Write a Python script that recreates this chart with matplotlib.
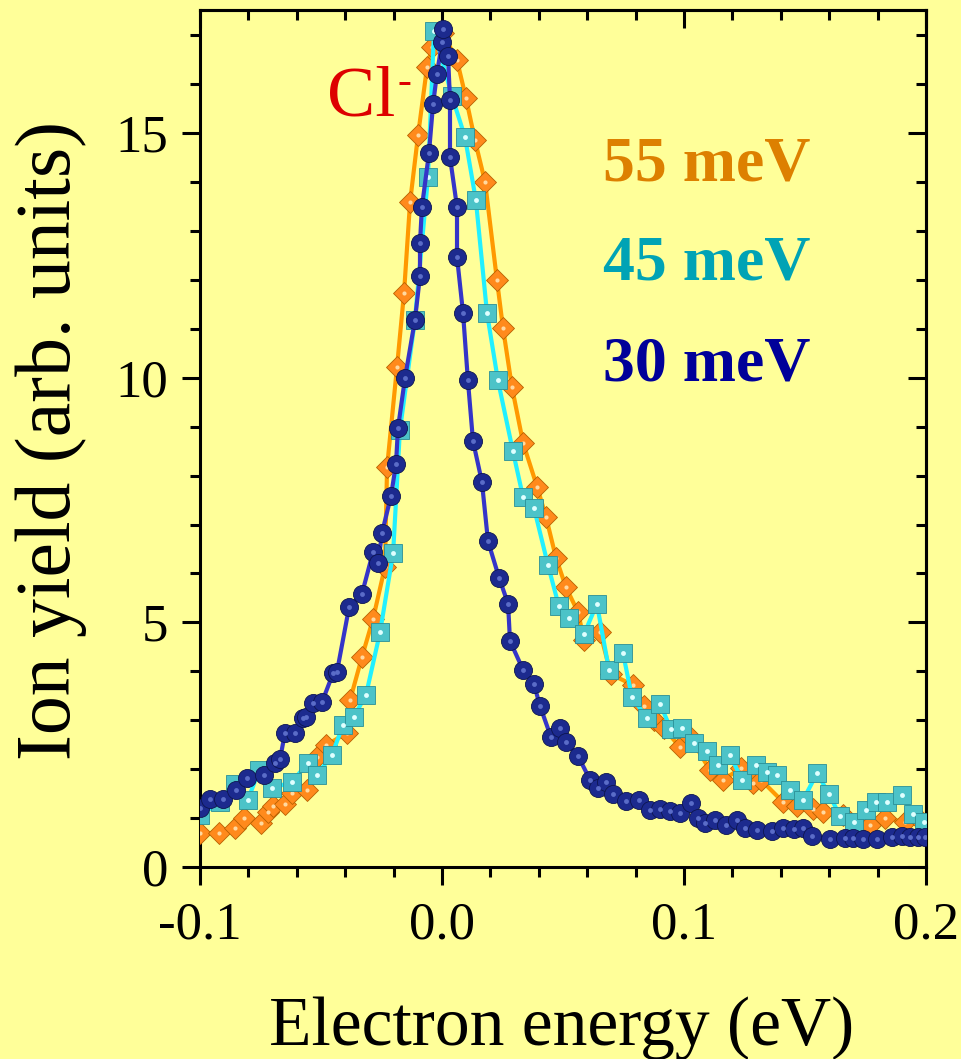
import matplotlib
matplotlib.use("Agg")
import matplotlib.pyplot as plt
from matplotlib.ticker import MultipleLocator, FormatStrFormatter

plt.rcParams['font.family'] = ['Liberation Serif', 'DejaVu Serif']

# 55 meV resolution (orange diamonds)
e55 = [-0.1000, -0.0921, -0.0855, -0.0818, -0.0748, -0.0719, -0.0698, -0.0649,
       -0.0620, -0.0558, -0.0517, -0.0479, -0.0393, -0.0380, -0.0331, -0.0285,
       -0.0236, -0.0227, -0.0186, -0.0157, -0.0132, -0.0099, -0.0062, -0.0041,
       0.0004, 0.0062, 0.0099, 0.0136, 0.0178, 0.0227, 0.0252, 0.0289, 0.0335,
       0.0393, 0.0430, 0.0471, 0.0512, 0.0562, 0.0587, 0.0653, 0.0698, 0.0789,
       0.0835, 0.0876, 0.0917, 0.0983, 0.1025, 0.1107, 0.1161, 0.1236, 0.1285,
       0.1318, 0.1409, 0.1467, 0.1533, 0.1574, 0.1657, 0.1769, 0.1831, 0.1913,
       0.1983]
y55 = [0.69, 0.69, 0.80, 1.00, 0.90, 1.12, 1.25, 1.29, 1.51, 1.57, 2.25, 2.49,
       2.74, 3.41, 4.29, 5.07, 6.13, 8.17, 10.22, 11.73, 13.59, 14.96, 16.35,
       16.76, 17.04, 16.49, 15.72, 14.86, 14.00, 12.00, 11.02, 9.81, 8.67, 7.77,
       7.15, 6.32, 5.72, 5.21, 4.64, 4.80, 3.94, 3.72, 3.29, 3.00, 2.84, 2.45,
       2.66, 1.98, 1.78, 2.02, 1.72, 1.78, 1.33, 1.25, 1.19, 1.12, 1.06, 0.86,
       1.00, 0.92, 0.92]

# 45 meV resolution (cyan squares)
e45 = [-0.1000, -0.0917, -0.0855, -0.0802, -0.0756, -0.0702, -0.0620, -0.0554,
       -0.0517, -0.0455, -0.0409, -0.0364, -0.0314, -0.0256, -0.0202, -0.0174,
       -0.0112, -0.0058, -0.0033, 0.0041, 0.0095, 0.0140, 0.0186, 0.0231,
       0.0293, 0.0335, 0.0380, 0.0438, 0.0483, 0.0525, 0.0587, 0.0640, 0.0690,
       0.0748, 0.0785, 0.0847, 0.0901, 0.0946, 0.0992, 0.1041, 0.1095, 0.1140,
       0.1190, 0.1240, 0.1298, 0.1343, 0.1384, 0.1438, 0.1492, 0.1550, 0.1599,
       0.1645, 0.1702, 0.1752, 0.1793, 0.1839, 0.1901, 0.1946, 0.1992]
y45 = [1.06, 1.33, 1.70, 1.37, 1.98, 1.61, 1.74, 2.13, 1.88, 2.29, 2.90, 3.07,
       3.52, 4.80, 6.42, 8.93, 11.18, 14.10, 17.09, 15.76, 14.92, 13.63, 11.32,
       9.95, 8.50, 7.56, 7.34, 6.17, 5.33, 5.09, 4.76, 5.38, 4.03, 4.37, 3.47,
       3.05, 3.33, 2.82, 2.84, 2.53, 2.37, 2.08, 2.29, 1.78, 2.08, 1.94, 1.88,
       1.57, 1.37, 1.92, 1.49, 1.04, 0.92, 1.16, 1.33, 1.33, 1.47, 1.08, 0.92]

# 30 meV resolution (blue spheres)
e30 = [-0.1000, -0.0959, -0.0905, -0.0851, -0.0806, -0.0736, -0.0690, -0.0669,
       -0.0649, -0.0607, -0.0574, -0.0562, -0.0533, -0.0496, -0.0450, -0.0434,
       -0.0384, -0.0331, -0.0285, -0.0264, -0.0248, -0.0211, -0.0190, -0.0182,
       -0.0153, -0.0112, -0.0091, -0.0091, -0.0083, -0.0054, -0.0037, -0.0021,
       0.0000, 0.0004, 0.0025, 0.0033, 0.0033, 0.0062, 0.0062, 0.0087, 0.0107,
       0.0128, 0.0165, 0.0190, 0.0236, 0.0273, 0.0281, 0.0335, 0.0380, 0.0405,
       0.0450, 0.0488, 0.0512, 0.0562, 0.0612, 0.0645, 0.0678, 0.0707, 0.0760,
       0.0814, 0.0860, 0.0901, 0.0942, 0.0983, 0.1029, 0.1058, 0.1087, 0.1128,
       0.1174, 0.1219, 0.1252, 0.1302, 0.1364, 0.1409, 0.1455, 0.1492, 0.1529,
       0.1603, 0.1665, 0.1698, 0.1740, 0.1798, 0.1860, 0.1901, 0.1934, 0.1967,
       0.1996]
y30 = [1.21, 1.39, 1.39, 1.57, 1.82, 1.88, 2.13, 2.21, 2.74, 2.74, 3.05, 3.07,
       3.35, 3.37, 3.96, 3.99, 5.31, 5.58, 6.44, 6.21, 6.83, 7.58, 8.24, 8.97,
       9.99, 11.18, 12.08, 12.75, 13.49, 14.59, 15.59, 16.21, 16.86, 17.13,
       16.57, 15.68, 14.51, 13.49, 12.47, 11.32, 9.95, 8.71, 7.87, 6.66, 5.91,
       5.38, 4.62, 4.03, 3.74, 3.29, 2.66, 2.84, 2.55, 2.27, 1.78, 1.61, 1.74,
       1.49, 1.35, 1.37, 1.16, 1.19, 1.14, 1.10, 1.31, 1.00, 0.90, 0.96, 0.86,
       0.96, 0.80, 0.76, 0.74, 0.80, 0.78, 0.80, 0.63, 0.57, 0.59, 0.59, 0.57,
       0.57, 0.61, 0.63, 0.61, 0.61, 0.61]

labels = ['55 meV', '45 meV', '30 meV']
label_colors = ['#DD8000', '#00A3B5', '#000099']

bg = '#FFFF99'
fig = plt.figure(figsize=(9.62, 10.59), dpi=100, facecolor=bg)
ax = fig.add_axes([0.2079, 0.1813, 0.7547, 0.8093])
ax.set_facecolor(bg)

# orange diamonds
ax.plot(e55, y55, '-', color='#FF9900', lw=3, zorder=2)
ax.plot(e55, y55, 'D', ms=11, mfc='#FF8A1C', mec='#B86000', mew=0.6, ls='none', zorder=3)
ax.plot(e55, y55, 'o', ms=3, mfc='#FFD9A0', mec='none', ls='none', zorder=3)

# cyan squares
ax.plot(e45, y45, '-', color='#22F0FF', lw=3, zorder=4)
ax.plot(e45, y45, 's', ms=13, mfc='#4CC3C8', mec='#2A8F96', mew=0.6, ls='none', zorder=5)
ax.plot(e45, y45, 'o', ms=3.5, mfc='#DFFFFF', mec='none', ls='none', zorder=5)

# blue spheres
ax.plot(e30, y30, '-', color='#3535C8', lw=3, zorder=6)
ax.plot(e30, y30, 'o', ms=13, mfc='#1C2A8E', mec='#0D1550', mew=0.6, ls='none', zorder=7)
ax.plot(e30, y30, 'o', ms=3.5, mfc='#5A6CC8', mec='none', ls='none', zorder=7)

ax.set_xlim(-0.1, 0.2)
ax.set_ylim(0, 17.52)
ax.xaxis.set_major_locator(MultipleLocator(0.1))
ax.xaxis.set_minor_locator(MultipleLocator(0.02))
ax.yaxis.set_major_locator(MultipleLocator(5))
ax.yaxis.set_minor_locator(MultipleLocator(1))
ax.xaxis.set_major_formatter(FormatStrFormatter('%.1f'))
ax.yaxis.set_major_formatter(FormatStrFormatter('%d'))

for s in ax.spines.values():
    s.set_linewidth(2.2)
ax.tick_params(which='both', direction='out', width=2.2, labelsize=38)
ax.tick_params(which='major', length=13)
ax.tick_params(which='minor', length=7)
ax.tick_params(axis='x', pad=12)
ax.tick_params(axis='y', pad=10)

top = ax.secondary_xaxis('top')
top.xaxis.set_major_locator(MultipleLocator(0.1))
top.xaxis.set_minor_locator(MultipleLocator(0.02))
top.tick_params(which='both', direction='in', width=2.2, labeltop=False)
top.tick_params(which='major', length=13)
top.tick_params(which='minor', length=7)
top.spines['top'].set_linewidth(2.2)

right = ax.secondary_yaxis('right')
right.yaxis.set_major_locator(MultipleLocator(5))
right.yaxis.set_minor_locator(MultipleLocator(1))
right.tick_params(which='both', direction='in', width=2.2, labelright=False)
right.tick_params(which='major', length=13)
right.tick_params(which='minor', length=7)
right.spines['right'].set_linewidth(2.2)

fig.text(0.584, 0.013, 'Electron energy (eV)', fontsize=50, ha='center', va='baseline')
fig.text(0.053, 0.5845, 'Ion yield (arb. units)', fontsize=56, rotation=90,
         ha='center', va='center')

for lab, col, yy in zip(labels, label_colors, [14.04, 12.0, 9.95]):
    ax.text(0.0665, yy, lab, color=col, fontsize=46, fontweight='bold',
            ha='left', va='baseline', zorder=8)

ax.text(-0.0475, 15.37, 'Cl', color='#DD0000', fontsize=52, ha='left', va='baseline', zorder=8)
ax.text(-0.0182, 16.04, '-', color='#DD0000', fontsize=30, ha='left', va='center', zorder=8)

fig.savefig('out.png', dpi=100, facecolor=bg)
